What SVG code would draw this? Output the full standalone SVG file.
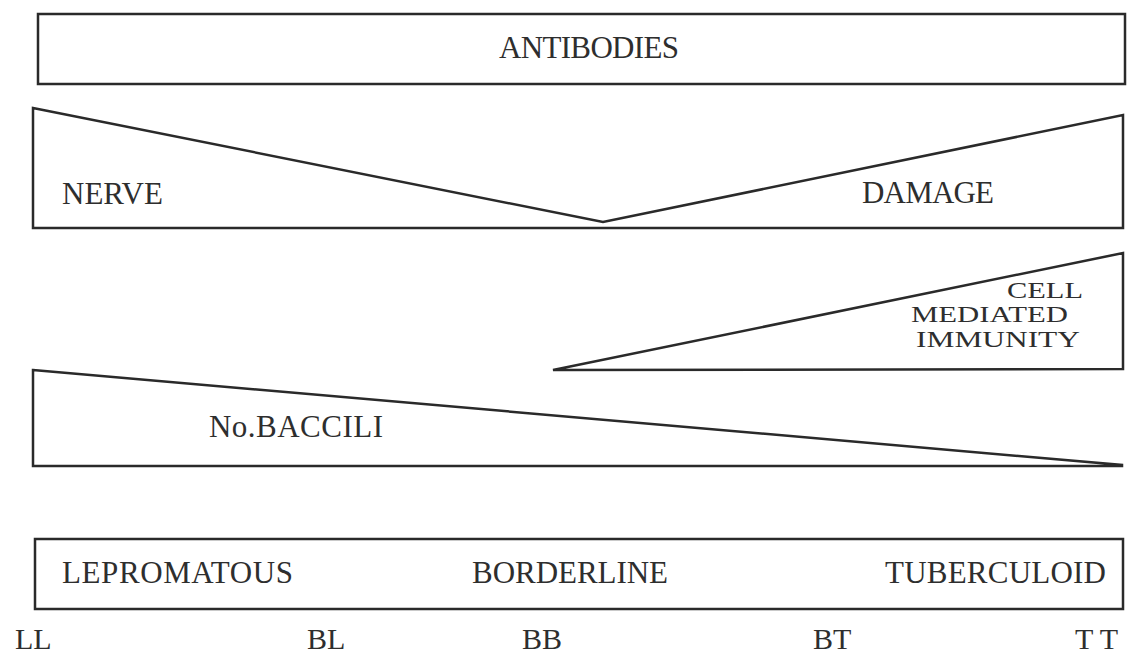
<svg xmlns="http://www.w3.org/2000/svg" width="1127" height="657" viewBox="0 0 1127 657">
<style>
.shape{fill:#fff;stroke:#2a2a2a;stroke-width:2.5;stroke-linejoin:miter}
.t{font-family:"Liberation Serif","Times New Roman",serif;font-size:31px;fill:#2e2e2e}
.s{font-family:"Liberation Serif","Times New Roman",serif;font-size:23px;fill:#2e2e2e}
.b{font-family:"Liberation Serif","Times New Roman",serif;font-size:30px;fill:#2e2e2e}
</style>
<rect width="1127" height="657" fill="#fff"/>
<g id="antibodies">
<rect class="shape" x="38" y="14" width="1087" height="70"/>
<text class="t" x="499" y="58" textLength="180">ANTIBODIES</text>
</g>
<g id="nerve-damage">
<polygon class="shape" points="33,108 603,222 1123,115 1123,228 33,228"/>
<text class="t" x="62" y="204">NERVE</text>
<text class="t" x="862" y="203" textLength="132">DAMAGE</text>
</g>
<g id="cmi">
<polygon class="shape" points="553,370 1123,253 1123,369"/>
<text class="s" x="1007" y="298" textLength="76" lengthAdjust="spacingAndGlyphs">CELL</text>
<text class="s" x="911" y="322" textLength="157" lengthAdjust="spacingAndGlyphs">MEDIATED</text>
<text class="s" x="916" y="347" textLength="164" lengthAdjust="spacingAndGlyphs">IMMUNITY</text>
</g>
<g id="bacilli">
<polygon class="shape" points="33,370 1122,465 1122,466 33,466"/>
<text class="t" x="209" y="437" textLength="174">No.BACCILI</text>
</g>
<g id="spectrum">
<rect class="shape" x="35" y="539" width="1088" height="70"/>
<text class="t" x="62" y="583" textLength="231">LEPROMATOUS</text>
<text class="t" x="472" y="583" textLength="196">BORDERLINE</text>
<text class="t" x="885" y="583" textLength="221">TUBERCULOID</text>
</g>
<g id="labels">
<text class="b" x="15" y="649">LL</text>
<text class="b" x="307" y="649">BL</text>
<text class="b" x="522" y="649">BB</text>
<text class="b" x="813" y="649">BT</text>
<text class="b" x="1075" y="649">T T</text>
</g>
<g id="connectors"/>
</svg>
